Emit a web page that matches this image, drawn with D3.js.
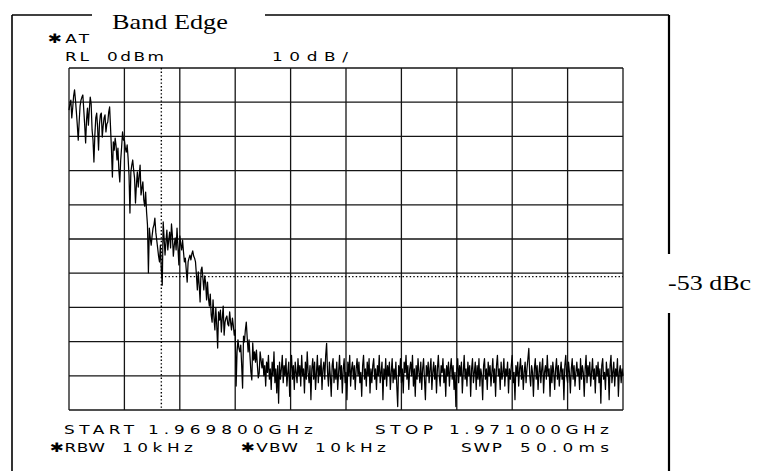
<!DOCTYPE html>
<html>
<head>
<meta charset="utf-8">
<script src="https://cdn.jsdelivr.net/npm/d3@7"></script>
<style>
  html, body { margin: 0; padding: 0; background: #fff; }
  svg { display: block; }
</style>
</head>
<body>
<svg id="chart" width="767" height="471"></svg>
<script>
// Sweep settings
const startFreqMHz = 1969.8;
const stopFreqMHz = 1971.0;
const refLevelDb = 0;
const bottomDb = -100;

// Graticule: 10 divisions each way
const gridFreqs = [1969.80, 1969.92, 1970.04, 1970.16, 1970.28, 1970.40, 1970.52, 1970.64, 1970.76, 1970.88, 1971.00];
const gridLevels = [0, -10, -20, -30, -40, -50, -60, -70, -80, -90, -100];

// Band edge marker and display line
const markerFreqMHz = 1970.0;
const displayLineDb = -61;

// Measured trace (dBm), 601 sweep points across the span
const traceDb = [
  // roll-off from the carrier side
  -12.3, -10.5, -9.4, -14.6, -11.7, -8.2, -6.4, -9.4, -12.9, -16.7, -21.1, -15.8, -11.1, -9.4, -8.5, -7.9, -12.3, -16.7, -21.9, -15.2, -11.7, -16.7, -12.3, -8.5, -10.5, -18.1, -21.1, -27.5, -19.6, -14.6,
  -13.2, -17.5, -24, -16.4, -13.7, -13.2, -20.2, -17, -14.6, -13.7, -18.7, -16.4, -15.8, -12.9, -11.4, -17.5, -24, -31.9, -21.6, -24, -20.5, -22.8, -26.9, -23.4, -29.8, -33.3, -26.9, -23.1, -18.7, -21.1,
  -21.1, -23.4, -24.6, -22.5, -26.3, -31.3, -42.4, -30.4, -28.4, -26.9, -29.8, -32.2, -39.5, -34.2, -30.4, -34.8, -31.6, -28.4, -37.1, -35.1, -33.3, -38.6, -40.4, -36.3, -42.1, -45.9, -59.9, -46.8, -49.7, -51.8,
  -49.1, -46.8, -45.9, -43.9, -48, -50.3, -52.6, -55, -56.7, -51.8, -59.1, -63.5, -45, -49.7, -54.7, -50.9, -47.4, -53.2, -50.3, -48, -52.6, -45.6, -49.1, -55, -51.8, -49.7, -53.2, -46.8, -52.6, -57.6,
  -49.1, -51.5, -53.2, -50.3, -53.8, -56.7, -55.6, -59.1, -62.6, -56.7, -55.6, -54.7, -56.1, -54.4, -53.5, -55, -55.6, -56.7, -60.5, -64.9, -59.6, -63.5, -68.4, -59.1, -58.2, -61.4, -64.9, -60.8, -62.9, -67.8,
  -62.6, -67.3, -69.6, -66.1, -72.2, -74.3, -67.8, -73.1, -76.6, -70.2, -75.1, -81.9, -71.3, -73.7, -70.8, -77.2, -73.1, -69.6, -78.1, -74.3, -73.1, -72.5, -74.9, -75.4, -71.3, -74.3, -76.6, -73.1, -75.4, -78.1,
  -76.6, -93, -83, -79.5, -81.9, -83, -81, -86.8, -93.6, -78.4, -80.1, -76.6, -74.3, -78.9, -83, -79.5, -84.2, -88.9, -91.2, -80.4, -85.4, -83, -86, -82.5, -86.8, -90.6, -89.2, -83, -85.4, -87.7,
  // noise floor
  -85, -90, -87, -93, -86, -89, -84, -91, -88, -94, -86, -90, -83, -92, -88, -95, -87, -98, -86, -91,
  -88, -84, -92, -87, -90, -85, -93, -89, -86, -96, -88, -84, -91, -87, -94, -86, -89, -92, -85, -90,
  -87, -93, -84, -90, -88, -95, -86, -91, -83, -89, -92, -87, -97, -88, -85, -91, -86, -94, -89, -84,
  -92, -87, -90, -85, -94, -88, -86, -91, -84, -80.5, -89, -93, -86, -90, -96, -87, -85, -92, -88, -91,
  -86, -94, -89, -84, -91, -87, -95, -88, -85, -92, -89, -97, -86, -90, -84, -93, -88, -86, -91, -87,
  -94, -88, -85, -90, -86, -92, -89, -96, -87, -84, -91, -88, -93, -86, -90, -85, -95, -88, -92, -87,
  -85, -91, -88, -94, -87, -90, -84, -92, -89, -86, -97, -88, -91, -85, -93, -87, -90, -86, -94, -89,
  -85, -92, -88, -91, -86, -93, -99, -87, -90, -85, -92, -88, -95, -86, -89, -84, -91, -87, -94, -88,
  -86, -90, -84, -93, -88, -96, -87, -91, -85, -89, -92, -86, -94, -88, -85, -91, -97, -87, -90, -86,
  -92, -88, -85, -94, -89, -86, -91, -87, -95, -88, -84, -90, -93, -87, -89, -85, -92, -88, -96, -87,
  -90, -86, -93, -88, -85, -91, -87, -94, -89, -99, -88, -85, -92, -87, -90, -86, -95, -89, -84, -91,
  -88, -93, -86, -90, -87, -96, -88, -85, -92, -89, -86, -94, -87, -91, -85, -93, -88, -90, -97, -87,
  -85, -91, -88, -94, -86, -90, -87, -93, -89, -85, -92, -88, -96, -87, -84, -90, -88, -94, -86, -91,
  -89, -85, -93, -88, -90, -86, -95, -88, -91, -87, -84, -92, -89, -97, -87, -90, -86, -93, -88, -85,
  -91, -87, -94, -89, -86, -92, -88, -85, -82, -90, -93, -87, -89, -96, -88, -85, -91, -87, -94, -89,
  -86, -92, -88, -85, -95, -89, -87, -91, -84, -90, -88, -96, -87, -92, -86, -89, -94, -88, -85, -91,
  -87, -93, -89, -86, -91, -88, -97, -87, -84, -90, -92, -86, -89, -95, -88, -85, -91, -87, -93, -89,
  -86, -90, -88, -94, -85, -91, -87, -89, -96, -88, -84, -92, -87, -90, -86, -93, -89, -85, -91, -88,
  -95, -87, -90, -86, -92, -88, -98, -87, -85, -91, -89, -94, -86, -90, -88, -97, -87, -84, -92, -89,
  -86, -93, -88, -90, -85, -96, -89, -87, -92, -88, -90
];

// Annotation text shown by the analyzer (left edge, right edge, baseline)
const headerLabels = [
  { text: "\u2731AT", x: 48, end: 88, y: 43 },
  { text: "RL", x: 65, end: 88, y: 61 },
  { text: "0dBm", x: 107, end: 163, y: 61 },
  { text: "10dB/", x: 272, end: 347, y: 61 }
];
const footerLabels = [
  { text: "START", x: 64, end: 133, y: 434 },
  { text: "1.969800GHz", x: 148, end: 312, y: 434 },
  { text: "STOP", x: 375, end: 432, y: 434 },
  { text: "1.971000GHz", x: 449, end: 608, y: 434 },
  { text: "\u2731RBW", x: 50, end: 104, y: 452 },
  { text: "10kHz", x: 122, end: 192, y: 452 },
  { text: "\u2731VBW", x: 241, end: 297, y: 452 },
  { text: "10kHz", x: 315, end: 385, y: 452 },
  { text: "SWP", x: 461, end: 501, y: 452 },
  { text: "50.0ms", x: 520, end: 608, y: 452 }
];

const svg = d3.select("#chart");
const plot = { left: 69, right: 623, top: 68, bottom: 410 };

const x = d3.scaleLinear().domain([startFreqMHz, stopFreqMHz]).range([plot.left, plot.right]);
const y = d3.scaleLinear().domain([bottomDb, refLevelDb]).range([plot.bottom, plot.top]);

// Outer frame with gaps for the title and the dBc callout
const frame = svg.append("g").attr("stroke", "#000").attr("fill", "none");
frame.append("line").attr("x1", 12).attr("x2", 12).attr("y1", 15).attr("y2", 471).attr("stroke-width", 1.6);
frame.append("line").attr("x1", 12).attr("x2", 92).attr("y1", 15).attr("y2", 15).attr("stroke-width", 1.6);
frame.append("line").attr("x1", 265).attr("x2", 669).attr("y1", 15).attr("y2", 15).attr("stroke-width", 1.6);
frame.append("line").attr("x1", 669).attr("x2", 669).attr("y1", 15).attr("y2", 254).attr("stroke-width", 2.2);
frame.append("line").attr("x1", 669).attr("x2", 669).attr("y1", 313).attr("y2", 471).attr("stroke-width", 2.2);

// Graticule
const grid = svg.append("g").attr("stroke", "#151515").attr("stroke-width", 1.3);
grid.selectAll("line.v").data(gridFreqs).join("line")
  .attr("class", "v")
  .attr("x1", d => x(d)).attr("x2", d => x(d))
  .attr("y1", y(refLevelDb)).attr("y2", y(bottomDb));
grid.selectAll("line.h").data(gridLevels).join("line")
  .attr("class", "h")
  .attr("x1", x(startFreqMHz)).attr("x2", x(stopFreqMHz))
  .attr("y1", d => y(d)).attr("y2", d => y(d));

// Band edge marker and display line (dotted)
const dots = svg.append("g").attr("stroke", "#000").attr("stroke-width", 1.4).attr("stroke-dasharray", "1.4,2.2");
dots.append("line")
  .attr("x1", x(markerFreqMHz)).attr("x2", x(markerFreqMHz))
  .attr("y1", y(refLevelDb)).attr("y2", y(bottomDb));
dots.append("line")
  .attr("x1", x(markerFreqMHz)).attr("x2", x(stopFreqMHz))
  .attr("y1", y(displayLineDb)).attr("y2", y(displayLineDb));

// Trace
const n = traceDb.length;
const traceFreqs = traceDb.map((_, i) => startFreqMHz + i * (stopFreqMHz - startFreqMHz) / (n - 1));
const line = d3.line().x((d, i) => x(traceFreqs[i])).y(d => y(d));
svg.append("path")
  .datum(traceDb)
  .attr("d", line)
  .attr("fill", "none")
  .attr("stroke", "#000")
  .attr("stroke-width", 1.25)
  .attr("stroke-linejoin", "round");

// Analyzer annotations: wide plotter-style lettering
const stretch = 1.3;
function drawLabels(list) {
  svg.append("g").selectAll("text").data(list).join("text")
    .attr("transform", d => `translate(${d.x},${d.y}) scale(${stretch},1)`)
    .attr("textLength", d => (d.end - d.x + 1) / stretch)
    .attr("lengthAdjust", "spacing")
    .attr("font-family", "DejaVu Sans, sans-serif")
    .attr("font-size", 13)
    .attr("fill", "#000")
    .text(d => d.text);
}
drawLabels(headerLabels);
drawLabels(footerLabels);

// Title and callout
svg.append("text")
  .attr("transform", "translate(112,29) scale(1.25,1)")
  .attr("font-family", "Liberation Serif, Times New Roman, serif")
  .attr("font-size", 21)
  .attr("fill", "#000")
  .text("Band Edge");
svg.append("text")
  .attr("transform", "translate(668,290) scale(1.3,1)")
  .attr("font-family", "Liberation Serif, Times New Roman, serif")
  .attr("font-size", 20)
  .attr("fill", "#000")
  .text("-53 dBc");
</script>
</body>
</html>
